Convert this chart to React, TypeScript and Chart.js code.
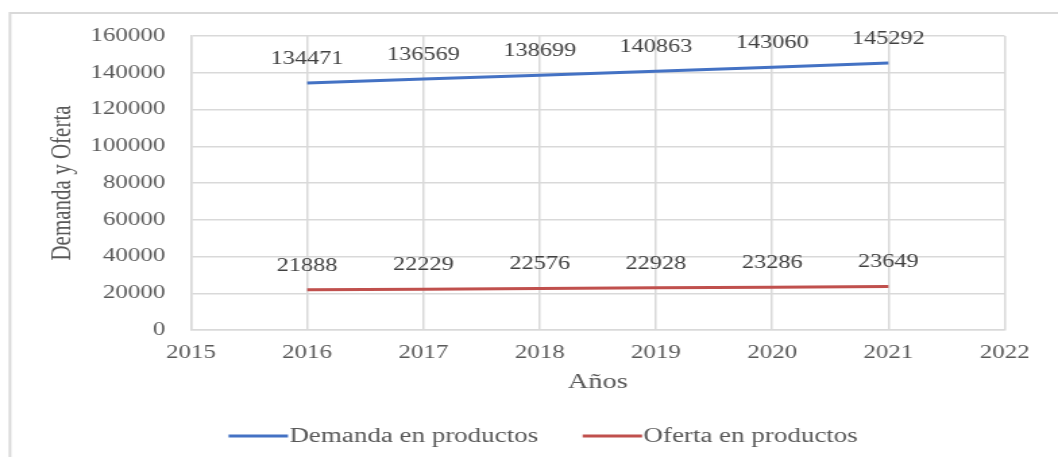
import React, { useEffect, useRef } from "react";
import { Chart, registerables } from "chart.js";

Chart.register(...registerables);

// ---- data ----
const years = [2016, 2017, 2018, 2019, 2020, 2021];
const demanda = [134471, 136569, 138699, 140863, 143060, 145292];
const oferta = [21888, 22229, 22576, 22928, 23286, 23649];
const seriesNames = ["Demanda en productos", "Oferta en productos"];
const seriesColors = ["#4472C4", "#C0504D"];
const xTitle = "Años";
const yTitle = "Demanda y Oferta";
const xMin = 2015;
const xMax = 2022;
const yMin = 0;
const yMax = 160000;
const yStep = 20000;

// ---- layout ----
const W = 1058;
const H = 457;
const SX = 1.35; // horizontal stretch of the picture
const CW = Math.round(W / SX);
const FAMILY = '"Liberation Serif", "Times New Roman", serif';
const TEXT = "#595959";
const GRID = "#d9d9d9";

const framePlugin = {
  id: "frame",
  beforeDraw(chart: any) {
    const { ctx } = chart;
    ctx.save();
    ctx.fillStyle = "#ffffff";
    ctx.fillRect(0, 0, chart.width, chart.height);
    ctx.strokeStyle = GRID;
    ctx.lineWidth = 2;
    ctx.strokeRect(10 / SX, 13, chart.width + 20, chart.height + 40);
    ctx.restore();
  },
};

const labelPlugin = {
  id: "valueLabels",
  afterDatasetsDraw(chart: any) {
    const { ctx } = chart;
    ctx.save();
    ctx.font = `18px ${FAMILY}`;
    ctx.fillStyle = "#404040";
    ctx.textAlign = "center";
    ctx.textBaseline = "middle";
    chart.data.datasets.forEach((ds: any, i: number) => {
      const meta = chart.getDatasetMeta(i);
      meta.data.forEach((pt: any, j: number) => {
        const v = ds.data[j];
        ctx.fillText(String(v.y), pt.x, pt.y - 24);
      });
    });
    ctx.restore();
  },
};

const legendPlugin = {
  id: "bottomLegend",
  afterDraw(chart: any) {
    const { ctx } = chart;
    const ds = chart.data.datasets;
    ctx.save();
    ctx.font = `20px ${FAMILY}`;
    const lineLen = 44;
    const textGap = 1;
    const gap = 33;
    const widths = ds.map((d: any) => ctx.measureText(d.label).width);
    const total =
      widths.reduce((a: number, w: number) => a + lineLen + textGap + w, 0) +
      gap * (ds.length - 1);
    const cx = 402.5;
    const y = 437;
    let x = cx - total / 2;
    ds.forEach((d: any, i: number) => {
      ctx.strokeStyle = d.borderColor;
      ctx.lineWidth = 3;
      ctx.beginPath();
      ctx.moveTo(x, y - 1);
      ctx.lineTo(x + lineLen, y - 1);
      ctx.stroke();
      ctx.fillStyle = TEXT;
      ctx.textAlign = "left";
      ctx.textBaseline = "middle";
      ctx.fillText(d.label, x + lineLen + textGap, y);
      x += lineLen + textGap + widths[i] + gap;
    });
    ctx.restore();
  },
};

export default function App() {
  const ref = useRef<HTMLCanvasElement | null>(null);

  useEffect(() => {
    if (!ref.current) return;
    const toXY = (vals: number[]) => vals.map((v, i) => ({ x: years[i], y: v }));
    const chart = new Chart(ref.current, {
      type: "line",
      data: {
        datasets: [
          {
            label: seriesNames[0],
            data: toXY(demanda),
            borderColor: seriesColors[0],
            backgroundColor: seriesColors[0],
            borderWidth: 3,
            pointRadius: 0,
            tension: 0,
          },
          {
            label: seriesNames[1],
            data: toXY(oferta),
            borderColor: seriesColors[1],
            backgroundColor: seriesColors[1],
            borderWidth: 3,
            pointRadius: 0,
            tension: 0,
          },
        ],
      },
      options: {
        responsive: false,
        animation: false,
        devicePixelRatio: 1,
        layout: { padding: { top: 36, right: CW - 1005 / SX, bottom: 64, left: 0 } },
        plugins: {
          legend: { display: false },
          tooltip: { enabled: false },
        },
        scales: {
          x: {
            type: "linear",
            min: xMin,
            max: xMax,
            ticks: {
              stepSize: 1,
              autoSkip: false,
              maxRotation: 0,
              callback: (v: any) => String(v),
              color: TEXT,
              font: { family: FAMILY, size: 18.5 },
              padding: 12,
            },
            grid: { color: GRID, lineWidth: 1.5, drawTicks: false },
            border: { color: GRID, width: 1.5 },
            title: {
              display: true,
              text: xTitle,
              color: TEXT,
              font: { family: FAMILY, size: 21, lineHeight: 1 },
              padding: 0,
            },
            afterFit: (s: any) => {
              s.height = 63;
            },
          },
          y: {
            min: yMin,
            max: yMax,
            ticks: {
              stepSize: yStep,
              callback: (v: any) => String(v),
              color: TEXT,
              font: { family: FAMILY, size: 18.5 },
              padding: 19,
            },
            grid: { color: GRID, lineWidth: 1.5, drawTicks: false },
            border: { color: GRID, width: 1.5 },
            title: {
              display: true,
              text: yTitle,
              color: TEXT,
              font: { family: FAMILY, size: 21, lineHeight: 1 },
              padding: { top: 36, bottom: 0 },
            },
            afterFit: (s: any) => {
              s.width = 191 / SX;
            },
          },
        },
      },
      plugins: [framePlugin, labelPlugin, legendPlugin],
    } as any);
    return () => chart.destroy();
  }, []);

  return (
    <div style={{ position: "fixed", left: 0, top: 0, width: W, height: H, background: "#fff" }}>
      <canvas
        ref={ref}
        width={CW}
        height={H}
        style={{ width: W + "px", height: H + "px", display: "block" }}
      />
    </div>
  );
}
